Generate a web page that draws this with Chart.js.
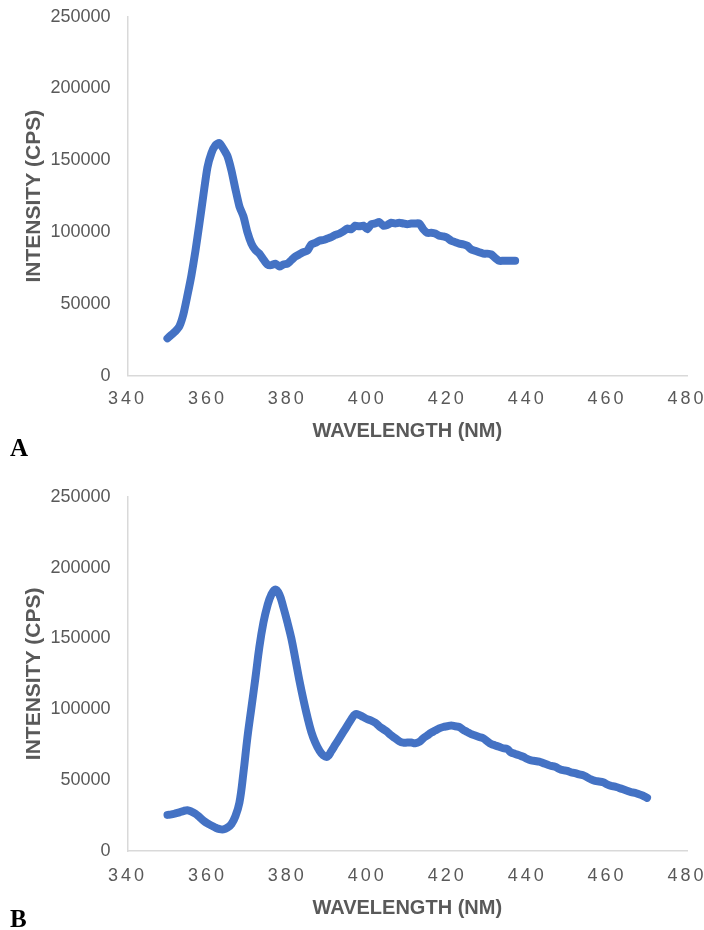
<!DOCTYPE html>
<html>
<head>
<meta charset="utf-8">
<script src="https://cdn.jsdelivr.net/npm/chart.js@4.4.1/dist/chart.umd.min.js"></script>
<style>
  body { margin: 0; background: #fff; }
  canvas { display: block; }
</style>
</head>
<body>
<canvas id="chartA" width="704" height="465"></canvas>
<canvas id="chartB" width="704" height="465"></canvas>
<script>
// --- Panel A: emission spectrum ---
const wavelengthA = [
  350, 351, 352, 353, 354, 355, 356, 357, 358, 359,
  360, 361, 362, 363, 364, 365, 366, 367, 368, 369,
  370, 371, 372, 373, 374, 375, 376, 377, 378, 379,
  380, 381, 382, 383, 384, 385, 386, 387, 388, 389,
  390, 391, 392, 393, 394, 395, 396, 397, 398, 399,
  400, 401, 402, 403, 404, 405, 406, 407, 408, 409,
  410, 411, 412, 413, 414, 415, 416, 417, 418, 419,
  420, 421, 422, 423, 424, 425, 426, 427, 428, 429,
  430, 431, 432, 433, 434, 435, 436, 437
];
const intensityA = [
  26000, 28500, 31000, 34500, 43000, 56000, 70000, 87000, 106000, 126000,
  145000, 155000, 160500, 162000, 158000, 153000, 143000, 130000, 118000, 111000,
  100000, 92000, 87500, 85000, 81000, 77500, 77000, 78000, 76000, 77500,
  78000, 80500, 83000, 84500, 86000, 87000, 91500, 92500, 94000, 94500,
  95500, 96500, 98000, 99000, 100500, 102500, 102000, 104500, 104000, 104500,
  102000, 105500, 106000, 107000, 104500, 105000, 106500, 106000, 106500, 106000,
  105500, 106000, 106000, 106000, 102000, 99500, 99500, 99000, 97500, 97000,
  96000, 94000, 93000, 92000, 91500, 90500, 88000, 87000, 86000, 85000,
  85000, 84500, 82000, 80000, 80000, 80000, 80000, 80000
];

// --- Panel B ---
const wavelengthB = [
  350, 351, 352, 353, 354, 355, 356, 357, 358, 359,
  360, 361, 362, 363, 364, 365, 366, 367, 368, 369,
  370, 371, 372, 373, 374, 375, 376, 377, 378, 379,
  380, 381, 382, 383, 384, 385, 386, 387, 388, 389,
  390, 391, 392, 393, 394, 395, 396, 397, 398, 399,
  400, 401, 402, 403, 404, 405, 406, 407, 408, 409,
  410, 411, 412, 413, 414, 415, 416, 417, 418, 419,
  420, 421, 422, 423, 424, 425, 426, 427, 428, 429,
  430, 431, 432, 433, 434, 435, 436, 437, 438, 439,
  440, 441, 442, 443, 444, 445, 446, 447, 448, 449,
  450, 451, 452, 453, 454, 455, 456, 457, 458, 459,
  460, 461, 462, 463, 464, 465, 466, 467, 468, 469,
  470
];
const intensityB = [
  25500, 25800, 26500, 27300, 28200, 28800, 27800, 26300, 24000, 21500,
  19500, 18000, 16500, 15500, 15300, 16500, 19000, 24500, 34000, 55000,
  80000, 101000, 122000, 144000, 161000, 173000, 181000, 184500, 181000, 172000,
  161500, 150000, 135500, 120500, 107000, 94700, 84000, 76500, 71000, 67500,
  66500, 70500, 75000, 79500, 84000, 88500, 93000, 96500, 96000, 94500,
  93000, 92000, 90500, 88000, 86000, 84000, 81500, 79500, 77500, 76500,
  76500, 76500, 76000, 77000, 79500, 81500, 83500, 85000, 86500, 87500,
  88000, 88500, 88000, 87500, 85500, 84000, 82500, 81500, 80500, 79500,
  77500, 75500, 74500, 73500, 72500, 72000, 69500, 68500, 67500, 66500,
  65000, 64000, 63500, 63000, 62000, 61000, 60000, 59500, 58000, 57000,
  56500, 55500, 55000, 54000, 53500, 52000, 50500, 49500, 49000, 48500,
  47000, 46000, 45500, 44500, 43500, 42500, 41500, 41000, 40000, 39000,
  37500
];

const xTicks = [340, 360, 380, 400, 420, 440, 460, 480];
const yTicks = [0, 50000, 100000, 150000, 200000, 250000];

const textGray = '#595959';
const axisGray = '#d9d9d9';
const lineBlue = '#4472c4';
const sans = '"Liberation Sans", Arial, sans-serif';

// bold serif panel letter in the bottom-left corner
const panelLabel = {
  id: 'panelLabel',
  afterDraw(chart, args, opts) {
    const ctx = chart.ctx;
    ctx.save();
    ctx.font = 'bold 25px "Liberation Serif", "Times New Roman", serif';
    ctx.fillStyle = '#000';
    ctx.textBaseline = 'alphabetic';
    ctx.fillText(opts.text, 10, opts.y);
    ctx.restore();
  }
};

function makeChart(id, xs, ys, cfg) {
  const points = xs.map((x, i) => ({ x: x, y: ys[i] }));
  return new Chart(document.getElementById(id), {
    type: 'line',
    data: {
      datasets: [{
        data: points,
        borderColor: lineBlue,
        borderWidth: 8,
        pointRadius: 0,
        tension: cfg.tension,
        borderCapStyle: 'round',
        borderJoinStyle: 'round'
      }]
    },
    plugins: [panelLabel],
    options: {
      responsive: false,
      animation: false,
      layout: { padding: { left: 0, right: 17, top: cfg.top, bottom: 0 } },
      plugins: {
        legend: { display: false },
        tooltip: { enabled: false },
        panelLabel: { text: cfg.letter, y: cfg.letterY }
      },
      scales: {
        x: {
          type: 'linear',
          min: 340,
          max: 480,
          afterBuildTicks: s => { s.ticks = xTicks.map(v => ({ value: v })); },
          grid: { display: false, drawTicks: false },
          border: { display: true, color: axisGray, width: 1.5 },
          ticks: {
            color: textGray,
            padding: cfg.xTickPad,
            font: { family: sans, size: 18 },
            callback: v => String(v)
          },
          title: {
            display: true,
            text: 'WAVELENGTH (NM)',
            color: textGray,
            font: { family: sans, size: 20, weight: 'bold' },
            padding: { top: 0, bottom: cfg.xTitlePad }
          },
          afterFit: s => {
            s.height = cfg.xHeight;
            s.paddingLeft = 0;
            s.paddingRight = 0;
            if (!s._spaced) {
              // the x tick numbers are spread out in the original
              const base = s.drawLabels;
              s.drawLabels = function (area) {
                this.ctx.letterSpacing = '3px';
                base.call(this, area);
                this.ctx.letterSpacing = '0px';
              };
              s._spaced = true;
            }
          }
        },
        y: {
          min: 0,
          max: 250000,
          afterBuildTicks: s => { s.ticks = yTicks.map(v => ({ value: v })); },
          grid: { display: false, drawTicks: false },
          border: { display: true, color: axisGray, width: 1.5 },
          ticks: {
            color: textGray,
            padding: 17,
            font: { family: sans, size: 18 },
            callback: v => String(v)
          },
          title: {
            display: true,
            text: 'INTENSITY (CPS)',
            color: textGray,
            font: { family: sans, size: 21, weight: 'bold' },
            padding: { top: 22, bottom: 0 }
          },
          afterFit: s => {
            s.width = 127.5;
            s.paddingTop = 0;
            s.paddingBottom = 0;
          }
        }
      }
    }
  });
}

makeChart('chartA', wavelengthA, intensityA, {
  tension: 0.2, top: 16.7, xHeight: 89.3, xTickPad: 13, xTitlePad: 22,
  letter: 'A', letterY: 456
});
makeChart('chartB', wavelengthB, intensityB, {
  tension: 0.4, top: 31.7, xHeight: 79, xTickPad: 14, xTitlePad: 10,
  letter: 'B', letterY: 462
});
</script>
</body>
</html>
